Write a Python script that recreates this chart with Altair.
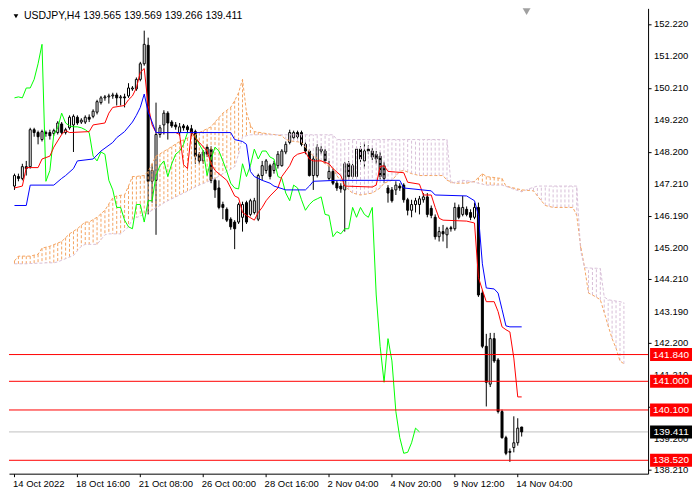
import altair as alt
import pandas as pd

# ---------------- data ----------------
opens = [147.13, 147.43, 147.37, 147.74, 147.74, 148.90, 148.81, 148.59, 148.78, 148.81,
         148.78, 148.81, 149.08, 148.81, 148.96, 149.05, 149.29, 149.14, 149.14, 149.29,
         149.32, 149.45, 149.75, 149.90, 149.93, 149.96, 149.99, 149.90, 149.93, 149.96,
         150.18, 150.18, 150.48, 150.97, 151.55, 147.28, 147.31, 148.75, 149.05, 149.42,
         149.14, 149.05, 148.81, 149.02, 148.99, 148.93, 148.84, 148.13, 147.92, 148.35,
         148.29, 147.31, 147.07, 146.55, 146.40, 146.09, 146.00, 146.00, 146.15, 146.61,
         146.24, 146.30, 146.09, 147.46, 147.62, 147.77, 147.62, 147.77, 147.77, 148.20,
         148.50, 148.65, 148.81, 148.81, 148.44, 148.23, 147.46, 147.46, 148.29, 148.23,
         147.37, 147.59, 147.22, 147.13, 147.01, 147.83, 147.43, 147.43, 148.29, 147.92,
         148.29, 148.23, 148.13, 148.07, 147.77, 147.07, 147.01, 147.01, 147.13, 147.16,
         146.70, 146.37, 146.55, 146.55, 146.70, 146.79, 146.43, 146.15, 145.54, 145.70,
         145.60, 145.82, 145.79, 146.46, 146.24, 146.40, 146.30, 146.15, 146.46, 143.77,
         142.10, 140.91, 142.34, 141.67, 140.05, 139.23, 138.80, 138.92, 139.07, 139.565]
highs = [147.52, 147.52, 147.83, 147.92, 148.96, 148.96, 148.87, 148.90, 148.87, 148.90,
         148.93, 149.17, 149.14, 148.96, 149.35, 149.38, 149.35, 149.26, 149.35, 149.38,
         149.54, 149.84, 149.96, 149.99, 150.03, 150.06, 150.06, 149.99, 150.03, 150.36,
         150.27, 150.54, 151.03, 152.01, 151.79, 147.83, 149.75, 149.05, 149.51, 149.48,
         149.20, 149.14, 149.11, 149.08, 149.05, 149.05, 148.90, 148.20, 148.26, 148.44,
         148.38, 147.37, 147.31, 146.64, 146.46, 146.15, 146.06, 146.61, 146.64, 146.67,
         146.73, 146.76, 147.52, 147.92, 147.98, 147.83, 147.92, 148.23, 148.29, 148.53,
         148.90, 148.87, 148.87, 148.87, 148.50, 148.29, 148.07, 148.44, 148.38, 148.29,
         147.92, 147.68, 147.31, 147.22, 147.89, 147.92, 147.83, 148.35, 148.38, 148.50,
         148.41, 148.32, 148.23, 148.20, 147.89, 147.16, 147.10, 147.28, 147.22, 147.22,
         146.76, 146.70, 146.76, 146.82, 146.91, 146.91, 146.52, 146.24, 145.85, 145.91,
         145.85, 145.88, 146.61, 146.55, 146.82, 146.49, 146.40, 146.61, 146.61, 143.87,
         142.49, 142.52, 142.52, 141.73, 140.11, 139.29, 138.89, 139.90, 139.84, 139.569]
lows = [147.01, 147.28, 147.31, 147.46, 147.68, 148.68, 148.44, 148.53, 148.68, 148.59,
        148.71, 148.75, 148.75, 148.75, 148.90, 148.20, 149.05, 149.08, 149.08, 149.14,
        149.26, 149.38, 149.69, 149.81, 149.72, 149.87, 149.66, 149.66, 149.60, 149.90,
        150.12, 150.12, 150.42, 150.91, 146.24, 146.61, 145.60, 148.65, 148.75, 148.59,
        148.96, 148.90, 148.71, 148.87, 148.81, 148.68, 147.83, 147.83, 147.83, 148.04,
        147.22, 146.76, 146.40, 146.09, 146.00, 145.76, 145.15, 145.94, 145.70, 145.94,
        146.18, 146.24, 146.03, 147.31, 147.52, 147.34, 147.52, 147.68, 147.74, 148.13,
        148.44, 148.59, 148.62, 148.38, 148.13, 147.43, 147.01, 147.40, 148.13, 147.83,
        147.31, 147.16, 146.98, 146.92, 145.70, 147.34, 147.37, 147.37, 147.89, 147.68,
        148.13, 147.95, 147.83, 147.34, 147.22, 146.61, 146.61, 146.85, 146.98, 146.61,
        146.21, 146.15, 146.30, 146.24, 146.61, 146.15, 146.12, 145.45, 145.39, 145.39,
        145.18, 145.70, 145.73, 146.09, 146.18, 146.18, 146.06, 146.09, 143.65, 142.04,
        140.21, 140.82, 141.58, 139.99, 139.20, 138.68, 138.47, 138.77, 138.98, 139.266]
closes = [147.46, 147.37, 147.74, 147.68, 148.90, 148.81, 148.68, 148.84, 148.81, 148.71,
          148.87, 149.11, 148.81, 148.90, 149.29, 149.32, 149.11, 149.20, 149.29, 149.23,
          149.48, 149.78, 149.90, 149.93, 149.96, 149.99, 149.90, 149.93, 149.90, 150.21,
          150.21, 150.48, 150.97, 151.58, 147.28, 147.62, 148.75, 148.96, 149.42, 149.11,
          149.02, 148.99, 148.99, 148.96, 148.90, 148.81, 148.07, 147.92, 148.20, 148.13,
          147.31, 147.01, 146.46, 146.46, 146.06, 145.85, 145.79, 146.55, 146.55, 146.00,
          146.67, 146.67, 147.46, 147.77, 147.92, 147.43, 147.83, 148.13, 148.23, 148.44,
          148.81, 148.81, 148.68, 148.44, 148.23, 147.46, 147.98, 148.35, 148.23, 147.92,
          147.59, 147.22, 147.07, 147.04, 147.83, 147.43, 147.77, 148.29, 147.98, 148.23,
          148.23, 148.04, 147.98, 147.43, 147.37, 146.91, 146.67, 147.16, 147.07, 146.70,
          146.37, 146.55, 146.67, 146.73, 146.79, 146.24, 146.21, 145.54, 145.70, 145.63,
          145.79, 145.79, 146.46, 146.15, 146.46, 146.24, 146.15, 146.46, 143.71, 142.10,
          140.97, 142.34, 141.64, 140.05, 139.23, 138.74, 138.77, 139.07, 139.53, 139.411]

# Chikou span (green), bars 0..103
chikou = [149.90, 149.93, 149.90, 150.21, 150.21, 150.48, 150.97, 151.58, 147.28, 147.62,
          148.75, 148.96, 149.42, 149.11, 149.02, 148.99, 148.99, 148.96, 148.90, 148.81,
          148.07, 147.92, 148.20, 148.13, 147.31, 147.01, 146.46, 146.46, 146.06, 145.85,
          145.79, 146.55, 146.55, 146.00, 146.67, 146.67, 147.46, 147.77, 147.92, 147.43,
          147.83, 148.13, 148.23, 148.44, 148.81, 148.81, 148.68, 148.44, 148.23, 147.46,
          147.98, 148.35, 148.23, 147.92, 147.59, 147.22, 147.07, 147.04, 147.83, 147.43,
          147.77, 148.29, 147.98, 148.23, 148.23, 148.04, 147.98, 147.43, 147.37, 146.91,
          146.67, 147.16, 147.07, 146.70, 146.37, 146.55, 146.67, 146.73, 146.79, 146.24,
          146.21, 145.54, 145.70, 145.63, 145.79, 145.79, 146.46, 146.15, 146.46, 146.24,
          146.15, 146.46, 143.71, 142.10, 140.97, 142.34, 141.64, 140.05, 139.23, 138.74,
          138.77, 139.07, 139.53, 139.411]

tenkan_idx = [0, 2, 3, 6, 7, 9, 10, 12, 13, 14, 19, 20, 23, 24, 25, 28, 29, 30, 31, 32,
              33, 34, 35, 36, 41, 42, 43, 44, 45, 46, 47, 49, 50, 51, 54, 55, 56, 57, 58, 59,
              61, 62, 63, 64, 65, 67, 68, 70, 71, 72, 74, 75, 76, 78, 80, 81, 83, 84, 91, 92,
              93, 94, 95, 99, 100, 103, 104, 106, 107, 108, 109, 115, 117, 118, 119, 120, 122,
              123, 124, 125, 126, 127, 128, 129]
tenkan_val = [147.07, 147.13, 147.71, 147.71, 147.98, 148.07, 148.35, 148.75, 148.87, 148.81,
              148.84, 149.05, 149.11, 149.42, 149.60, 149.66, 149.84, 149.96, 150.21, 150.70,
              150.82, 149.66, 149.05, 148.81, 148.81, 148.75, 147.80, 147.68, 148.84, 148.65,
              148.50, 148.23, 147.83, 147.62, 147.31, 147.07, 146.82, 146.76, 146.30, 146.21,
              146.06, 146.30, 146.46, 146.67, 146.82, 147.07, 147.43, 147.77, 148.04, 148.13,
              148.20, 147.98, 147.92, 147.92, 147.83, 147.68, 147.46, 147.13, 147.10, 147.16,
              147.74, 147.77, 147.59, 147.55, 147.25, 147.19, 146.85, 146.85, 146.46, 146.12,
              146.06, 146.03, 145.97, 144.26, 143.87, 143.50, 143.50, 143.19, 142.71, 142.62,
              142.55, 141.73, 140.51, 140.51]

kijun_idx = [0, 3, 4, 10, 12, 13, 15, 16, 20, 22, 25, 26, 28, 30, 31, 32, 33, 34, 35, 36,
             55, 56, 58, 59, 60, 61, 62, 63, 65, 66, 69, 74, 75, 76, 82, 98, 99, 106, 107, 115,
             117, 118, 119, 120, 122, 123, 124, 125, 126, 129]
kijun_val = [146.52, 146.52, 147.16, 147.16, 147.37, 147.46, 147.68, 147.92, 147.98, 148.23,
             148.50, 148.65, 148.84, 149.14, 149.35, 149.60, 150.02, 149.45, 149.14, 148.81,
             148.81, 148.59, 148.53, 148.44, 147.59, 147.43, 147.37, 147.31, 147.22, 147.13,
             147.01, 147.01, 147.13, 147.28, 147.31, 147.31, 147.07, 146.98, 146.85, 146.82,
             146.67, 146.21, 144.69, 143.93, 143.90, 143.77, 143.26, 142.74, 142.71, 142.71]

# Senkou spans for bars 0..155 (cloud projected 26 bars ahead)
span_a = [144.78, 144.93, 144.93, 144.93, 144.93, 144.96, 144.99, 145.18, 145.21, 145.24,
          145.29, 145.34, 145.39, 145.51, 145.63, 145.71, 145.79, 145.90, 146.00, 146.00,
          146.08, 146.15, 146.26, 146.37, 146.57, 146.76, 146.82, 146.84, 146.85, 147.13,
          147.43, 147.43, 147.45, 147.46, 147.59, 147.83, 148.07, 148.14, 148.22, 148.29,
          148.37, 148.45, 148.53, 148.58, 148.64, 148.69, 148.74, 148.81, 148.87, 148.93,
          148.99, 149.14, 149.28, 149.42, 149.51, 149.60, 149.81, 150.06, 150.48, 149.45,
          149.05, 148.84, 148.82, 148.80, 148.78, 148.76, 148.75, 148.73, 148.71, 148.59,
          148.56, 148.53, 148.52, 148.50, 148.35, 148.21, 148.07, 148.00, 147.92, 147.83,
          147.76, 147.68, 147.46, 147.28, 147.15, 147.01, 146.91, 146.88, 146.85, 146.87,
          146.89, 146.91, 146.99, 147.07, 147.22, 147.27, 147.31, 147.45, 147.59, 147.62,
          147.57, 147.52, 147.49, 147.46, 147.46, 147.46, 147.46, 147.46, 147.46, 147.46,
          147.31, 147.27, 147.22, 147.22, 147.22, 147.22, 147.25, 147.28, 147.40, 147.52,
          147.43, 147.41, 147.40, 147.38, 147.37, 147.13, 147.10, 147.07, 147.04, 147.01,
          147.00, 146.99, 146.98, 146.82, 146.67, 146.52, 146.49, 146.46, 146.46, 146.46,
          146.46, 146.46, 146.46, 146.21, 145.24, 144.57, 143.77, 143.71, 143.64, 143.56,
          143.16, 142.74, 142.34, 142.04, 141.64, 141.55]
span_b = [144.69, 144.69, 144.69, 144.69, 144.70, 144.70, 144.71, 144.71, 144.72, 144.72,
          144.72, 144.75, 144.80, 144.85, 144.90, 144.95, 145.10, 145.24, 145.30, 145.30,
          145.30, 145.30, 145.45, 145.60, 145.63, 145.63, 145.63, 145.63, 145.74, 145.85,
          146.09, 146.14, 146.19, 146.24, 146.30, 146.37, 146.45, 146.52, 146.60, 146.67,
          146.73, 146.79, 146.85, 146.91, 146.97, 147.04, 147.10, 147.16, 147.21, 147.26,
          147.32, 147.37, 147.44, 147.52, 147.59, 147.66, 147.74, 148.13, 148.68, 148.71,
          148.74, 148.74, 148.74, 148.74, 148.74, 148.74, 148.74, 148.74, 148.74, 148.74,
          148.74, 148.74, 148.74, 148.74, 148.74, 148.74, 148.74, 148.74, 148.74, 148.74,
          148.74, 148.74, 148.59, 148.59, 148.59, 148.59, 148.59, 148.59, 148.59, 148.59,
          148.59, 148.59, 148.59, 148.59, 148.59, 148.59, 148.59, 148.59, 148.59, 148.59,
          148.59, 148.59, 148.59, 148.59, 148.59, 148.59, 148.59, 148.59, 148.59, 148.59,
          148.59, 147.22, 147.25, 147.28, 147.31, 147.30, 147.28, 147.25, 147.22, 147.19,
          147.16, 147.16, 147.16, 147.16, 147.16, 147.12, 147.08, 147.03, 146.99, 146.95,
          147.00, 147.05, 147.09, 147.13, 147.13, 147.13, 147.13, 147.13, 147.13, 147.13,
          147.13, 147.13, 147.13, 147.13, 145.09, 144.57, 144.56, 144.55, 144.55, 144.54,
          143.65, 143.56, 143.54, 143.52, 143.50, 143.47]

level_prices = [141.84, 141.00, 140.10, 138.52]
level_labels = ["141.840", "141.000", "140.100", "138.520"]
last_price = 139.411
last_label = "139.411"
price_ticks = [152.22, 151.20, 150.21, 149.22, 148.20, 147.21, 146.19, 145.20, 144.21,
               143.19, 142.20, 141.21, 140.20, 139.20, 138.21]
date_ticks = [0, 16, 32, 48, 64, 80, 96, 112, 128]
date_labels = ["14 Oct 2022", "18 Oct 16:00", "21 Oct 08:00", "26 Oct 00:00", "28 Oct 16:00",
               "2 Nov 04:00", "4 Nov 20:00", "9 Nov 12:00", "14 Nov 04:00"]
title_text = "USDJPY,H4  139.565 139.569 139.266 139.411"
shift_marker_idx = 130.25

# ---------------- chart ----------------
W, H = 640, 466
FONT = "Liberation Sans"
xs = alt.Scale(domain=[-0.125, 159.875], nice=False, zero=False)
ys = alt.Scale(domain=[138.10, 152.71], nice=False, zero=False)

n = len(opens)
cdf = pd.DataFrame({"idx": list(range(n)), "open": opens, "high": highs,
                    "low": lows, "close": closes})
cdf["fill"] = ["#FFFFFF" if c >= o else "#000000" for o, c in zip(opens, closes)]

kdf = pd.DataFrame({"idx": list(range(len(span_a))), "a": span_a, "b": span_b})
kdf["col"] = ["#F4A460" if a >= b else "#D8BFD8" for a, b in zip(span_a, span_b)]

chdf = pd.DataFrame({"idx": list(range(len(chikou))), "v": chikou})
tdf = pd.DataFrame({"idx": tenkan_idx, "v": tenkan_val})
jdf = pd.DataFrame({"idx": kijun_idx, "v": kijun_val})
ldf = pd.DataFrame({"price": level_prices, "label": level_labels})
pdf = pd.DataFrame({"price": [last_price], "label": [last_label]})
# price scale labels (visible ones; 140.200 is fully covered by the 140.100 box in the reference)
tick_df = pd.DataFrame({"price": [p for p in price_ticks if p != 140.20],
                        "label": [f"{p:.3f}" for p in price_ticks if p != 140.20]})

expr = "".join(f"datum.value == {t} ? '{l}' : " for t, l in zip(date_ticks, date_labels)) + "''"

x_axis = alt.Axis(values=date_ticks, labelExpr=expr, tickSize=3, labelAlign="left",
                  labelPadding=2, labelOffset=-2, labelOverlap=False, labelFlush=False,
                  grid=False, title=None, domainColor="black", tickColor="black",
                  labelColor="black", labelFont=FONT, labelFontSize=9.5, zindex=0)
y_axis = alt.Axis(orient="right", values=price_ticks, labels=False, tickSize=3,
                  grid=False, title=None, domainColor="black", tickColor="black", zindex=0)


def X(f):
    return alt.X(f, scale=xs, title=None)


def Y(f):
    return alt.Y(f, scale=ys, title=None)


# axis carrier (invisible)
axes = alt.Chart(cdf).mark_point(opacity=0).encode(
    x=alt.X("idx:Q", scale=xs, axis=x_axis),
    y=alt.Y("close:Q", scale=ys, axis=y_axis))

ytexts = alt.Chart(tick_df).mark_text(font=FONT, fontSize=9.5, align="left",
                                      baseline="middle", color="black", clip=False).encode(
    y=Y("price:Q"), x=alt.value(W + 6), text="label:N")

cur_line = alt.Chart(pdf).mark_rule(color="#C0C0C0", strokeWidth=1).encode(
    y=Y("price:Q"), x=alt.value(0), x2=alt.value(W))

wicks = alt.Chart(cdf).mark_rule(color="black", strokeWidth=1, clip=True).encode(
    x=X("idx:Q"), y=Y("low:Q"), y2="high:Q")
bodies = alt.Chart(cdf).mark_bar(width=2, stroke="black", strokeWidth=1, clip=True).encode(
    x=X("idx:Q"), y=Y("open:Q"), y2="close:Q", fill=alt.Fill("fill:N", scale=None))

hatch = alt.Chart(kdf).mark_rule(strokeWidth=1, strokeDash=[3, 2], clip=True).encode(
    x=X("idx:Q"), y=Y("a:Q"), y2="b:Q", color=alt.Color("col:N", scale=None))
line_a = alt.Chart(kdf).mark_line(color="#F4A460", strokeWidth=1, strokeDash=[3, 2],
                                  clip=True).encode(x=X("idx:Q"), y=Y("a:Q"))
line_b = alt.Chart(kdf).mark_line(color="#D8BFD8", strokeWidth=1, strokeDash=[3, 2],
                                  clip=True).encode(x=X("idx:Q"), y=Y("b:Q"))

chik = alt.Chart(chdf).mark_line(color="#00FF00", strokeWidth=1, clip=True).encode(
    x=X("idx:Q"), y=Y("v:Q"))
tenk = alt.Chart(tdf).mark_line(color="#FF0000", strokeWidth=1, clip=True).encode(
    x=X("idx:Q"), y=Y("v:Q"))
kij = alt.Chart(jdf).mark_line(color="#0000FF", strokeWidth=1, clip=True).encode(
    x=X("idx:Q"), y=Y("v:Q"))

levels = alt.Chart(ldf).mark_rule(color="#FF0000", strokeWidth=1).encode(
    y=Y("price:Q"), x=alt.value(0), x2=alt.value(W))

box_h = 0.205
lbox = alt.Chart(ldf).transform_calculate(
    lo=f"datum.price - {box_h}", hi=f"datum.price + {box_h}"
).mark_rect(color="#FF0000", clip=False).encode(
    y=Y("lo:Q"), y2="hi:Q", x=alt.value(W + 2), x2=alt.value(W + 44))
ltext = alt.Chart(ldf).mark_text(color="white", font=FONT, fontSize=10, align="center",
                                 baseline="middle", clip=False).encode(
    y=Y("price:Q"), x=alt.value(W + 23), text="label:N")
pbox = alt.Chart(pdf).transform_calculate(
    lo=f"datum.price - {box_h}", hi=f"datum.price + {box_h}"
).mark_rect(color="#000000", clip=False).encode(
    y=Y("lo:Q"), y2="hi:Q", x=alt.value(W + 2), x2=alt.value(W + 44))
ptext = alt.Chart(pdf).mark_text(color="white", font=FONT, fontSize=10, align="center",
                                 baseline="middle", clip=False).encode(
    y=Y("price:Q"), x=alt.value(W + 23), text="label:N")

tdf2 = pd.DataFrame({"t": [title_text]})
title = alt.Chart(tdf2).mark_text(font=FONT, fontSize=10.5, align="left", baseline="middle",
                                  color="black").encode(
    text="t:N", x=alt.value(15), y=alt.value(8))
tri = alt.Chart(tdf2).mark_point(shape="triangle-down", filled=True, color="black",
                                 size=22, opacity=1).encode(
    x=alt.value(7), y=alt.value(8))
sdf = pd.DataFrame({"idx": [shift_marker_idx]})
shift_tri = alt.Chart(sdf).mark_point(shape="triangle-down", filled=True, color="#A0A0A0",
                                      size=70, opacity=1, clip=True).encode(
    x=X("idx:Q"), y=alt.value(3))

chart = alt.layer(
    axes, ytexts, cur_line, wicks, bodies, hatch, line_a, line_b, chik, tenk, kij, levels,
    lbox, ltext, pbox, ptext, title, tri, shift_tri
).properties(
    width=W, height=H, background="white",
    padding={"left": 0, "top": 0, "right": 0, "bottom": 0}
).configure_view(stroke=None).configure_axis(labelOverlap=False)

chart.save("out.html", embed_options={"renderer": "svg", "actions": False})
